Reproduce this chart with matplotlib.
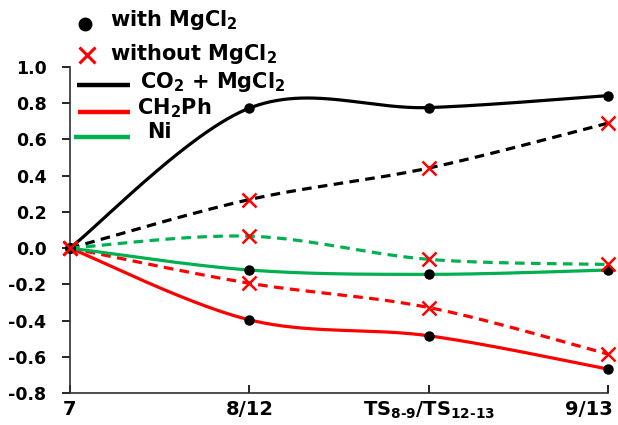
import numpy as np
import matplotlib.pyplot as plt
from matplotlib.lines import Line2D
from matplotlib.transforms import ScaledTranslation

# ── Data ──────────────────────────────────────────────────────────────────
categories = ["7", "8/12", r"TS$_{8\text{-}9}$/TS$_{12\text{-}13}$", "9/13"]
y_ticks = [-0.8, -0.6, -0.4, -0.2, 0.0, 0.2, 0.4, 0.6, 0.8, 1.0]

co2_with      = [0.0, 0.773, 0.776, 0.842]
co2_without   = [0.0, 0.268, 0.442, 0.690]
ch2ph_with    = [0.0, -0.396, -0.484, -0.668]
ch2ph_without = [0.0, -0.194, -0.328, -0.585]
ni_with       = [0.0, -0.121, -0.145, -0.121]
ni_without    = [0.0, 0.066, -0.062, -0.090]

# ── Style ─────────────────────────────────────────────────────────────────
plt.rcParams["font.family"] = ["DejaVu Sans"]
plt.rcParams["font.weight"] = "bold"
plt.rcParams["mathtext.fontset"] = "dejavusans"
plt.rcParams["mathtext.default"] = "bf"

BLACK = "#000000"
RED   = "#ff0000"
GREEN = "#00b050"
W, H = 618, 425


def smooth(y, n=60):
    """Excel-like smoothed line (Catmull-Rom Bezier segments)."""
    x = np.arange(len(y), dtype=float)
    p = np.column_stack([x, np.asarray(y, dtype=float)])
    pts = []
    for i in range(len(p) - 1):
        p0 = p[i - 1] if i > 0 else p[i]
        p3 = p[i + 2] if i + 2 < len(p) else p[i + 1]
        c1 = p[i] + (p[i + 1] - p0) / 6
        c2 = p[i + 1] - (p3 - p[i]) / 6
        t = np.linspace(0, 1, n)[:, None]
        seg = ((1 - t) ** 3 * p[i] + 3 * (1 - t) ** 2 * t * c1
               + 3 * (1 - t) * t ** 2 * c2 + t ** 3 * p[i + 1])
        pts.append(seg if i == 0 else seg[1:])
    pts = np.vstack(pts)
    return pts[:, 0], pts[:, 1]


fig = plt.figure(figsize=(W / 100, H / 100), dpi=100)
ax = fig.add_axes([70 / W, 1 - 393 / H, 538 / W, 326 / H])

xs = np.arange(len(categories))
series = [
    (co2_with, BLACK, "-"), (co2_without, BLACK, "--"),
    (ch2ph_with, RED, "-"), (ch2ph_without, RED, "--"),
    (ni_with, GREEN, "-"), (ni_without, GREEN, "--"),
]
for vals, col, ls in series:
    sx, sy = smooth(vals)
    if ls == "--":
        ax.plot(sx, sy, color=col, lw=2.3, dashes=(3, 2), zorder=2)
    else:
        ax.plot(sx, sy, color=col, lw=2.3, zorder=2)

for vals, col, ls in series:
    if ls == "-":
        ax.plot(xs, vals, "o", color="black", ms=6.5, zorder=3, clip_on=False)
    else:
        ax.plot(xs, vals, "x", color=RED, ms=10, mew=1.8, zorder=3, clip_on=False)

ax.set_xlim(0, 3)
ax.set_ylim(-0.8, 1.0)
ax.set_yticks(y_ticks)
ax.set_yticklabels([f"{v:.1f}" for v in y_ticks])
ax.set_xticks(xs)
ax.set_xticklabels(categories)
ax.tick_params(axis="y", direction="out", length=6, width=1.2, labelsize=12.5, pad=11)
ax.tick_params(axis="x", direction="in", length=6, width=1.2, labelsize=14, pad=5)
last = ax.get_xticklabels()[-1]
last.set_horizontalalignment("right")
last.set_transform(last.get_transform() + ScaledTranslation(5 / 100, 0, fig.dpi_scale_trans))
for s in ["top", "right"]:
    ax.spines[s].set_visible(False)
for s in ["left", "bottom"]:
    ax.spines[s].set_linewidth(1.2)
    ax.spines[s].set_color("#303030")

# ── Legend (drawn by hand, figure pixels from top-left) ───────────────────
def fx(px):
    return px / W


def fy(py):
    return 1 - py / H


tr = fig.transFigure
fig.add_artist(Line2D([fx(85)], [fy(24)], ls="", marker="o", color="black", ms=9, transform=tr))
fig.add_artist(Line2D([fx(87)], [fy(55)], ls="", marker="x", color=RED, ms=12, mew=2.2, transform=tr))
fig.text(fx(110), fy(20), "with MgCl$_2$", fontsize=15, va="center", ha="left")
fig.text(fx(110), fy(54), "without MgCl$_2$", fontsize=15, va="center", ha="left")

for y, x0, col in [(85, 77, BLACK), (112, 78, RED), (137, 74, GREEN)]:
    fig.add_artist(Line2D([fx(x0), fx(130)], [fy(y), fy(y)], color=col, lw=3.2,
                          transform=tr, solid_capstyle="butt"))
fig.text(fx(140), fy(82), "CO$_2$ + MgCl$_2$", fontsize=15, va="center", ha="left")
fig.text(fx(137), fy(108), "CH$_2$Ph", fontsize=15, va="center", ha="left")
fig.text(fx(147), fy(132), "Ni", fontsize=15, va="center", ha="left")

fig.savefig("out.png", dpi=100)
